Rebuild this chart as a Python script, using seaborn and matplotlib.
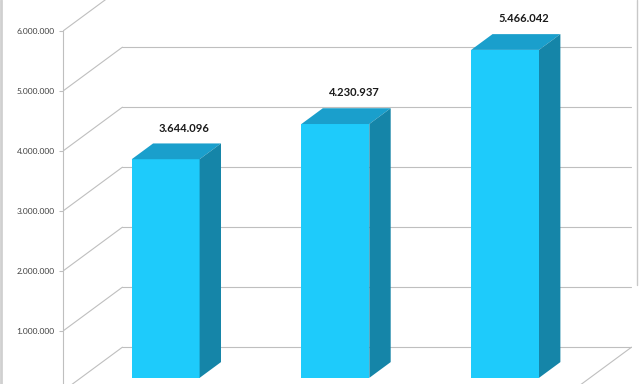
import matplotlib.pyplot as plt
import matplotlib.transforms as mtransforms
import pandas as pd
import seaborn as sns
from matplotlib.lines import Line2D
from matplotlib.patches import Polygon
from matplotlib.ticker import FuncFormatter

# -----------------------------------------------------------------------------
# Data
# -----------------------------------------------------------------------------
CATEGORIES = ["1", "2", "3"]
VALUES = [3644096, 4230937, 5466042]
Y_TICKS = [0, 1000000, 2000000, 3000000, 4000000, 5000000, 6000000]

# -----------------------------------------------------------------------------
# Style / layout
# -----------------------------------------------------------------------------
FRONT_COLOR = "#1ecbfb"
TOP_COLOR = "#1a9fcc"
SIDE_COLOR = "#1585a8"
GRID_COLOR = "#bfbfbf"

# fake 3d: full depth of the plot box, in data units
DEPTH_X = 0.35
DEPTH_Y = 0.73e6
BAR_FRONT = 0.30  # depth fraction of the bar front face
BAR_BACK = 0.66   # depth fraction of the bar back face

PX_PER_CAT = 169.7
PX_PER_UNIT = 60 / 1e6
AXIS_LEFT_PX = 63


def dotted(v, _pos=None):
    return f"{v:,.0f}".replace(",", ".")


def main() -> None:
    sns.set_style("white")
    plt.rcParams["font.family"] = ["Lato", "DejaVu Sans"]

    fig = plt.figure(figsize=(6.4, 3.84), dpi=100)
    ax = fig.add_axes([AXIS_LEFT_PX / 640, 0, 1 - AXIS_LEFT_PX / 640, 1])

    df = pd.DataFrame({"category": CATEGORIES, "value": VALUES})

    fx, fy = BAR_FRONT * DEPTH_X, BAR_FRONT * DEPTH_Y
    bx, by = BAR_BACK * DEPTH_X, BAR_BACK * DEPTH_Y
    front_shift = mtransforms.Affine2D().translate(fx, fy) + ax.transData

    sns.barplot(
        data=df,
        x="category",
        y="value",
        color=FRONT_COLOR,
        saturation=1,
        width=0.4,
        linewidth=0,
        errorbar=None,
        transform=front_shift,
        zorder=3,
        ax=ax,
    )

    # top and side faces of each column
    bars = list(ax.patches)
    for bar in bars:
        x0 = bar.get_x()
        x1 = x0 + bar.get_width()
        h = bar.get_height()
        top = [(x0 + fx, h + fy), (x1 + fx, h + fy), (x1 + bx, h + by), (x0 + bx, h + by)]
        side = [(x1 + fx, fy), (x1 + bx, by), (x1 + bx, h + by), (x1 + fx, h + fy)]
        ax.add_patch(Polygon(top, closed=True, facecolor=TOP_COLOR, linewidth=0, zorder=3))
        ax.add_patch(Polygon(side, closed=True, facecolor=SIDE_COLOR, linewidth=0, zorder=3))
        ax.annotate(
            dotted(h),
            xy=((x0 + x1) / 2 + bx, h + by),
            xytext=(-2, 11),
            textcoords="offset points",
            ha="center",
            va="center",
            fontsize=8,
            fontweight="bold",
            color="#1a1a1a",
            zorder=4,
        )

    # walls: side wall diagonals + back wall gridlines
    left = -0.5
    right = len(CATEGORIES) - 0.5
    for v in Y_TICKS:
        ax.plot([left, left + DEPTH_X], [v, v + DEPTH_Y], color=GRID_COLOR, lw=0.8, zorder=1)
        ax.plot([left + DEPTH_X, right + DEPTH_X], [v + DEPTH_Y, v + DEPTH_Y],
                color=GRID_COLOR, lw=0.8, zorder=1)
    ax.plot([right, right + DEPTH_X], [0, DEPTH_Y], color=GRID_COLOR, lw=0.8, zorder=1)

    ax.set_yticks(Y_TICKS)
    ax.yaxis.set_major_formatter(FuncFormatter(dotted))
    ax.tick_params(axis="y", left=True, length=3, width=0.8, color=GRID_COLOR,
                   labelsize=6, labelcolor="#404040", pad=3)
    ax.set_xticks([])
    ax.set_xlabel("")
    ax.set_ylabel("")

    # limits so the front axis sits at x=63px and 0 at y=391px (set after ticks)
    ax.set_xlim(left, left + (640 - AXIS_LEFT_PX) / PX_PER_CAT)
    ax.set_ylim((391 - 384) / PX_PER_UNIT, 391 / PX_PER_UNIT)

    for name in ["top", "right", "bottom"]:
        ax.spines[name].set_visible(False)
    ax.spines["left"].set_color(GRID_COLOR)
    ax.spines["left"].set_linewidth(0.8)
    ax.spines["left"].set_bounds(0, Y_TICKS[-1])
    ax.patch.set_alpha(0)

    # chart frame remnants at the image edges
    fig.add_artist(Line2D([0.002, 0.002], [0, 1], color="#d0d0d0", lw=2, transform=fig.transFigure))
    fig.add_artist(Line2D([637 / 640, 637 / 640], [1 - 285 / 384, 1], color="#c8c8c8", lw=1,
                          transform=fig.transFigure))

    fig.savefig("out.png", dpi=100, facecolor="white")
    plt.close(fig)


if __name__ == "__main__":
    main()
